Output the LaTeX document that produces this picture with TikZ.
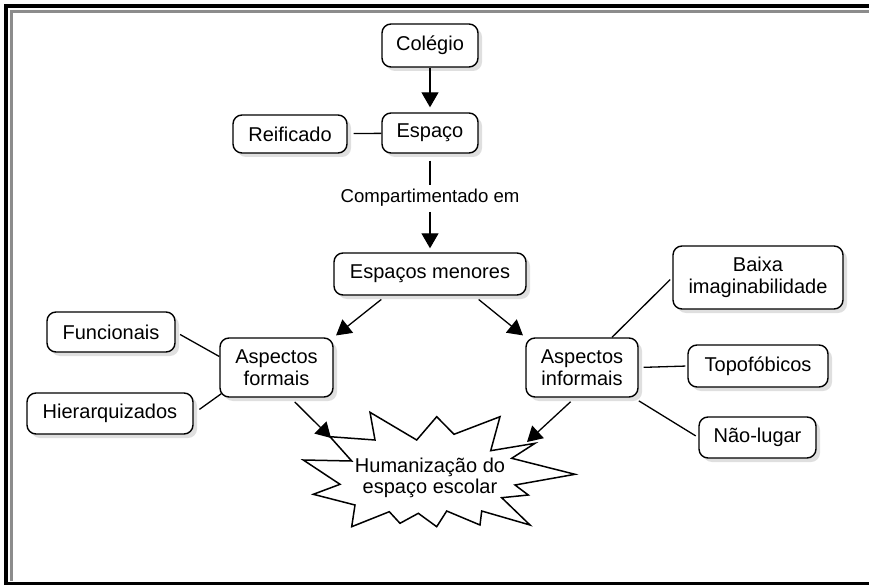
\documentclass[tikz,border=0pt]{standalone}
\usepackage{fontspec}
\setmainfont{Liberation Sans}
\usetikzlibrary{arrows.meta,shadows}
\begin{document}
\begin{tikzpicture}[x=1pt,y=-1pt,
  box/.style={draw=black, line width=1.4pt, rounded corners=9pt, fill=white,
    align=center, inner sep=0pt, font=\fontsize{20}{22}\selectfont,
    drop shadow={shadow xshift=4pt, shadow yshift=-4pt, fill=black!25}},
  arr/.style={line width=1.3pt, -{Triangle[length=15pt,width=17pt]}},
  ln/.style={line width=1.3pt},
  lbl/.style={font=\fontsize{18.6}{20}\selectfont, inner sep=0pt},
]
\useasboundingbox (0,0) rectangle (869,585);
% frame
\draw[line width=4pt] (869,6) -- (6,6) -- (6,584) -- (869,584);
\draw[line width=3pt, black!45] (869,11.2) -- (11.2,11.2) -- (11.2,581);

% nodes
\node[box, minimum width=96pt, minimum height=43pt] (col) at (430,45.5) {Colégio};
\node[box, minimum width=96pt, minimum height=40pt] (esp) at (430,133) {Espaço};
\node[box, minimum width=114pt, minimum height=38pt] (rei) at (290,134) {Reificado};
\node[lbl] (comp) at (430,198) {Compartimentado em};
\node[box, minimum width=192pt, minimum height=42pt] (men) at (430,274) {Espaços menores};
\node[box, minimum width=113pt, minimum height=59pt] (af) at (276.5,367.5) {Aspectos\\formais};
\node[box, minimum width=128pt, minimum height=40pt] (fun) at (111,332) {Funcionais};
\node[box, minimum width=166pt, minimum height=41pt] (hie) at (110,413.5) {Hierarquizados};
\node[box, minimum width=112pt, minimum height=59pt] (ai) at (582,367.5) {Aspectos\\informais};
\node[box, minimum width=170pt, minimum height=63pt] (bai) at (758,277.5) {Baixa\\imaginabilidade};
\node[box, minimum width=140pt, minimum height=42pt] (top) at (758,366) {Topofóbicos};
\node[box, minimum width=117pt, minimum height=41pt] (nao) at (757.5,437.5) {Não-lugar};

% star
\draw[line width=1.5pt, fill=white, line join=miter]
  (330,436.7) -- (375,440) -- (370,412.3) -- (416.7,440) -- (436.7,416.7)
  -- (454,434.3) -- (500,416.7) -- (490.7,450.7) -- (535,443.3) -- (511.7,458.3)
  -- (575,474.3) -- (515,485) -- (528.3,495) -- (501.7,497.7) -- (530,525)
  -- (481.7,511) -- (480,525) -- (446.7,511) -- (436.7,526.7) -- (418.3,513.3)
  -- (400,523.3) -- (389.3,511.7) -- (351.7,526.7) -- (355,505) -- (313.3,494.3)
  -- (340,484.3) -- (303.3,460) -- (351.7,461) -- cycle;
\node[align=center, inner sep=0pt, font=\fontsize{20}{20.5}\selectfont] (hum) at (430,478) {Humanização do\\espaço escolar};
\coordinate (tipL) at (331,438);
\coordinate (tipR) at (527,442);

% connectors
\draw[arr, shorten >=5pt] (col) -- (esp);
\draw[ln, shorten <=7pt, shorten >=4pt] (esp) -- (comp);
\draw[arr, shorten <=5pt, shorten >=4pt] (comp) -- (men);
\draw[ln, shorten <=6pt] (rei) -- (esp);
\draw[arr, shorten <=6pt, shorten >=3pt] ([xshift=-44pt]men.south) -- (af.north east);
\draw[arr, shorten <=6pt, shorten >=3pt] ([xshift=44pt]men.south) -- (ai.north west);
\draw[ln, shorten <=5pt] (fun.east) -- ([yshift=11pt]af.west);
\draw[ln, shorten <=7pt] (hie.east) -- ([xshift=2pt,yshift=4pt]af.south west);
\draw[arr, shorten <=6pt] ([xshift=14pt]af.south) -- (tipL);
\draw[arr, shorten <=6pt] ([xshift=-7pt]ai.south) -- (tipR);
\draw[ln, shorten >=3pt] ([xshift=30pt]ai.north) -- (bai.west);
\draw[ln, shorten <=5pt, shorten >=2pt] (ai.east) -- (top.west);
\draw[ln, shorten <=6pt, shorten >=3pt] ([xshift=-5pt]ai.south east) -- (nao.west);
\end{tikzpicture}
\end{document}
